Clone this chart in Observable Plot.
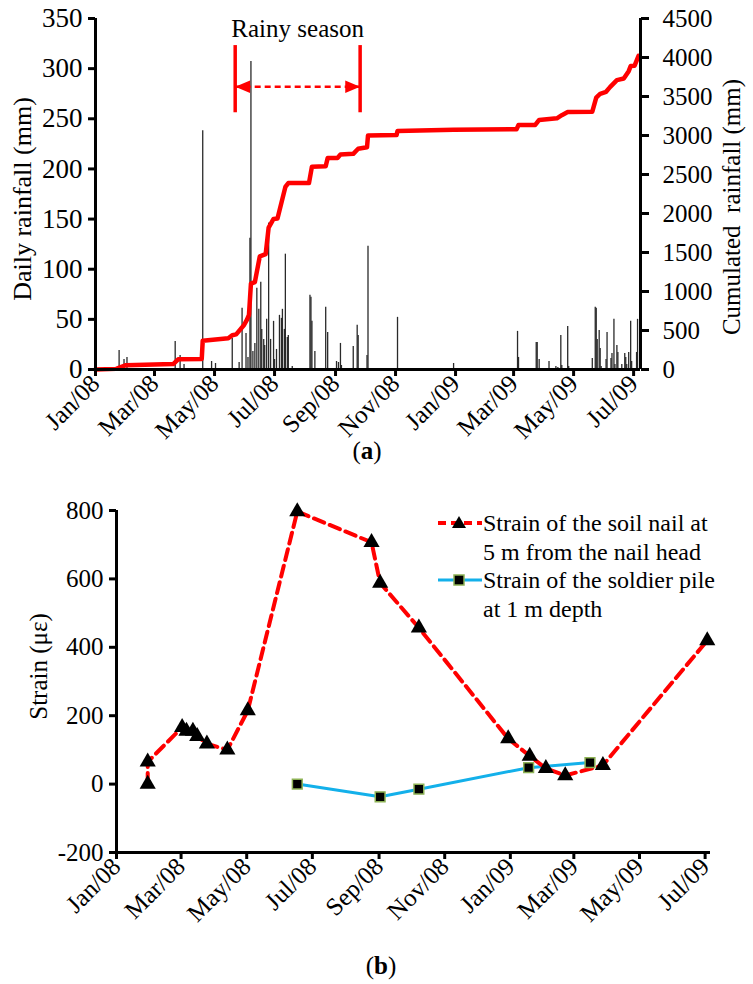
<!DOCTYPE html>
<html><head><meta charset="utf-8">
<script src="https://cdn.jsdelivr.net/npm/d3@7"></script>
<script src="https://cdn.jsdelivr.net/npm/@observablehq/plot@0.6"></script>
<style>
body{margin:0;background:#fff;}
#wrap{position:relative;width:753px;height:984px;font-family:"Liberation Serif",serif;color:#000;overflow:hidden;}
#wrap svg{position:absolute;left:0;}
.cap{position:absolute;font-size:25px;transform:translateX(-50%);line-height:1;}
.leg{position:absolute;font-size:24px;line-height:28.5px;white-space:nowrap;}
</style></head><body><div id="wrap"></div>
<script>
// ---------- Panel (a): daily rainfall ----------
const rainDates = ["2008-01-25","2008-01-30","2008-02-02","2008-03-22","2008-03-27","2008-03-31","2008-04-19","2008-04-28","2008-05-02",
"2008-05-19","2008-05-26","2008-05-29","2008-06-02","2008-06-04","2008-06-06","2008-06-07","2008-06-09","2008-06-11","2008-06-13","2008-06-15",
"2008-06-17","2008-06-18","2008-06-20","2008-06-21","2008-06-23","2008-06-25","2008-06-27","2008-06-30","2008-07-01","2008-07-03","2008-07-06",
"2008-07-08","2008-07-09","2008-07-11","2008-07-12","2008-07-14","2008-07-15","2008-07-19","2008-08-06","2008-08-07","2008-08-08","2008-08-11",
"2008-08-22","2008-08-24","2008-09-02","2008-09-04","2008-09-06","2008-09-07","2008-09-19","2008-09-23","2008-09-24","2008-10-03","2008-10-04",
"2008-11-03","2008-12-30","2009-03-05","2009-03-06","2009-03-24","2009-03-25","2009-03-27","2009-04-06","2009-04-13","2009-04-15","2009-04-18",
"2009-04-19","2009-04-25","2009-04-26","2009-05-20","2009-05-23","2009-05-24","2009-05-25","2009-05-27","2009-05-28","2009-05-29","2009-06-03",
"2009-06-04","2009-06-08","2009-06-09","2009-06-11","2009-06-12","2009-06-14","2009-06-15","2009-06-19","2009-06-22","2009-06-23","2009-06-24",
"2009-06-26","2009-06-28","2009-06-29","2009-07-04","2009-07-05"];
const rainMM = [19,10,12,28,14,5,238,8,6,
31,7,61,36,12,131,307,18,26,81,60,
87,40,30,24,50,146,30,48,10,20,54,
51,60,40,115,32,34,3,74,72,48,18,
62,37,8,7,26,4,23,44,34,14,123,
52,6,38,12,27,27,10,8,3,2,34,
4,43,3,11,62,61,30,39,21,3,10,
37,11,16,50,5,24,17,5,16,12,5,
17,48,8,17,50];

// cumulated rainfall (mm), right axis
const cumDates = ["2008-01-01","2008-01-22","2008-02-01","2008-03-20","2008-03-25","2008-04-18","2008-04-19","2008-05-15","2008-05-19",
"2008-05-23","2008-05-31","2008-06-03","2008-06-05","2008-06-07","2008-06-11","2008-06-16","2008-06-22","2008-06-25","2008-06-30","2008-07-04",
"2008-07-12","2008-07-15","2008-08-05","2008-08-08","2008-08-22","2008-08-24","2008-09-03","2008-09-06","2008-09-19","2008-09-24","2008-10-03",
"2008-10-04","2008-11-02","2008-11-03","2008-12-30","2009-03-04","2009-03-06","2009-03-23","2009-03-27","2009-04-14","2009-04-19","2009-04-25",
"2009-05-20","2009-05-24","2009-05-28","2009-06-03","2009-06-07","2009-06-14","2009-06-21","2009-06-26","2009-06-28","2009-07-02","2009-07-06"];
const cumMM = [0,8,55,70,130,135,370,400,440,
450,570,640,700,1100,1120,1450,1480,1820,1930,1935,
2340,2390,2390,2600,2605,2710,2712,2755,2765,2830,2850,
3000,3005,3058,3075,3080,3135,3135,3200,3220,3260,3300,
3305,3485,3535,3560,3620,3710,3730,3825,3890,3895,4020];

const tickDates = ["2008-01-01","2008-03-01","2008-05-01","2008-07-01","2008-09-01","2008-11-01","2009-01-01","2009-03-01","2009-05-01","2009-07-01"];
const tickLabels = ["Jan/08","Mar/08","May/08","Jul/08","Sep/08","Nov/08","Jan/09","Mar/09","May/09","Jul/09"];
const leftTicks = [0,50,100,150,200,250,300,350];
const rightTicks = [0,500,1000,1500,2000,2500,3000,3500,4000,4500];

// rainy season annotation
const rainySeason = ["2008-05-22","2008-09-26"];
const rainyBracket = [256,323];
const rainyArrowY = 282;
const rainyTextY = 340;

// ---------- Panel (b): strain ----------
const nailDates = ["2008-01-30","2008-01-30","2008-03-02","2008-03-06","2008-03-12","2008-03-16","2008-03-25","2008-04-13","2008-05-02",
"2008-06-17","2008-08-25","2008-09-02","2008-10-08","2008-12-30","2009-01-19","2009-02-03","2009-02-21","2009-03-28","2009-07-03"];
const nailStrain = [0,65,166,155,155,140,118,100,215,797,707,588,457,133,82,46,25,55,420];
const pileDates = ["2008-06-17","2008-09-02","2008-10-08","2009-01-18","2009-03-16"];
const pileStrain = [0,-37,-15,48,63];
const strainTicks = [-200,0,200,400,600,800];

// ---------- build ----------
const labelOf = new Map(tickDates.map((d,i)=>[+new Date(d), tickLabels[i]]));
const ratio = leftTicks[leftTicks.length-1] / rightTicks[rightTicks.length-1];
const rain = rainDates.map((d,i)=>({date:new Date(d), mm:rainMM[i]}));
const cum = cumDates.map((d,i)=>({date:new Date(d), v:cumMM[i]*ratio}));
const xDomA = [new Date("2008-01-01"), new Date("2009-07-08")];
const rs = rainySeason.map(d=>new Date(d));
const mid = new Date((+rs[0] + +rs[1])/2);

const mkTri = dir => ({draw(ctx, size){
  const k = Math.sqrt(size/Math.PI)/7;
  ctx.moveTo(dir*7*k, 0); ctx.lineTo(-dir*6*k, -5.5*k); ctx.lineTo(-dir*6*k, 5.5*k); ctx.closePath();
}});

const font = {fontFamily:"Liberation Serif, Times New Roman, serif", fontSize:"25px", background:"transparent", overflow:"visible", color:"#000"};

const plotA = Plot.plot({
  width:753, height:430, marginLeft:95, marginRight:113, marginTop:18, marginBottom:61,
  style:font,
  x:{type:"utc", domain:xDomA},
  y:{domain:[0,350]},
  marks:[
    Plot.ruleX(rain,{x:"date", y1:0, y2:"mm", stroke:"#2a2a2a", strokeWidth:1.3}),
    Plot.line(cum,{x:"date", y:"v", stroke:"#ff0000", strokeWidth:4.5, strokeLinejoin:"round", strokeLinecap:"round"}),
    Plot.ruleX(rs,{y1:rainyBracket[0], y2:rainyBracket[1], stroke:"#ff0000", strokeWidth:3.5}),
    Plot.ruleY([{y:rainyArrowY, x1:rs[0], x2:rs[1]}],{y:"y", x1:"x1", x2:"x2", stroke:"#ff0000", strokeWidth:2.5, strokeDasharray:"6,4"}),
    Plot.dot([{x:rs[0], y:rainyArrowY}],{x:"x", y:"y", r:8, symbol:mkTri(-1), fill:"#ff0000", stroke:"none", dx:8}),
    Plot.dot([{x:rs[1], y:rainyArrowY}],{x:"x", y:"y", r:8, symbol:mkTri(1), fill:"#ff0000", stroke:"none", dx:-8}),
    Plot.text([{x:mid, y:rainyTextY, t:"Rainy season"}],{x:"x", y:"y", text:"t", fontSize:25}),
    Plot.axisX(tickDates.map(d=>new Date(d)),{tickFormat:d=>labelOf.get(+d), tickRotate:-45, tickSize:7, tickPadding:3, strokeWidth:3, fontSize:25, label:null}),
    Plot.axisY(leftTicks,{anchor:"left", tickSize:7, tickPadding:6, strokeWidth:3, fontSize:27, label:null}),
    Plot.axisY(rightTicks.map(v=>v*ratio),{anchor:"right", tickFormat:v=>String(Math.round(v/ratio)), tickSize:8, tickPadding:14, strokeWidth:3, fontSize:25, label:null}),
    Plot.ruleX(xDomA,{stroke:"#000", strokeWidth:3}),
    Plot.ruleY([0],{stroke:"#000", strokeWidth:3}),
    Plot.text(["Daily rainfall (mm)"],{frameAnchor:"left", textAnchor:"middle", dx:-73, dy:5, rotate:-90, fontSize:26}),
    Plot.text(["Cumulated\u00a0 rainfall (mm)"],{frameAnchor:"right", textAnchor:"middle", dx:91, dy:13, rotate:-90, fontSize:25})
  ]
});
plotA.style.top = "0px";

const nail = nailDates.map((d,i)=>({date:new Date(d), v:nailStrain[i]}));
const pile = pileDates.map((d,i)=>({date:new Date(d), v:pileStrain[i]}));
const xDomB = [new Date("2008-01-01"), new Date("2009-07-06")];
const plotB = Plot.plot({
  width:753, height:470, marginLeft:116, marginRight:43, marginTop:40, marginBottom:88,
  style:font,
  x:{type:"utc", domain:xDomB},
  y:{domain:[-200,800]},
  marks:[
    Plot.line(pile,{x:"date", y:"v", stroke:"#13b0ea", strokeWidth:3}),
    Plot.line(nail,{x:"date", y:"v", stroke:"#ff0000", strokeWidth:4, strokeDasharray:"11,6"}),
    Plot.dot(nail,{x:"date", y:"v", symbol:"triangle", r:6, fill:"#000", stroke:"none"}),
    Plot.dot(pile,{x:"date", y:"v", symbol:"square", r:5.5, fill:"#000", stroke:"#8db255", strokeWidth:1.5}),
    Plot.axisX(tickDates.map(d=>new Date(d)),{tickFormat:d=>labelOf.get(+d), tickRotate:-45, tickSize:7, tickPadding:3, strokeWidth:3, fontSize:25, label:null}),
    Plot.axisY(strainTicks,{anchor:"left", tickFormat:d=>String(d), tickSize:7, tickPadding:6, strokeWidth:3, fontSize:25, label:null}),
    Plot.ruleX([xDomB[0]],{stroke:"#000", strokeWidth:3}),
    Plot.ruleY([strainTicks[0]],{stroke:"#000", strokeWidth:3}),
    Plot.text(["Strain (με)"],{frameAnchor:"left", textAnchor:"middle", dx:-78, dy:-15, rotate:-90, fontSize:25})
  ]
});
plotB.style.top = "470px";

const wrap = document.getElementById("wrap");
wrap.appendChild(plotA);
wrap.appendChild(plotB);

function cap(html, x, y){ const d=document.createElement("div"); d.className="cap"; d.innerHTML=html; d.style.left=x+"px"; d.style.top=y+"px"; wrap.appendChild(d); }
cap("(<b>a</b>)", 367, 438);
cap("(<b>b</b>)", 381, 953);

// legend
function legRow(top, swatch, lines){
  const row = document.createElement("div"); row.className="leg"; row.style.left="437px"; row.style.top=top+"px";
  row.innerHTML = `<svg width="46" height="28" style="position:absolute;left:0;top:0">${swatch}</svg><div style="position:absolute;left:46px;top:0">${lines.join("<br>")}</div>`;
  wrap.appendChild(row);
}
legRow(509, `<line x1="1" x2="45" y1="14" y2="14" stroke="#ff0000" stroke-width="4" stroke-dasharray="8,5"/><path d="M22,7 L29,19 L15,19 Z" fill="#000"/>`,
  ["Strain of the soil nail at","5 m from the nail head"]);
legRow(566, `<line x1="1" x2="45" y1="14" y2="14" stroke="#13b0ea" stroke-width="3"/><rect x="17" y="9" width="10" height="10" fill="#000" stroke="#8db255" stroke-width="1.5"/>`,
  ["Strain of the soldier pile","at 1 m depth"]);
</script></body></html>
